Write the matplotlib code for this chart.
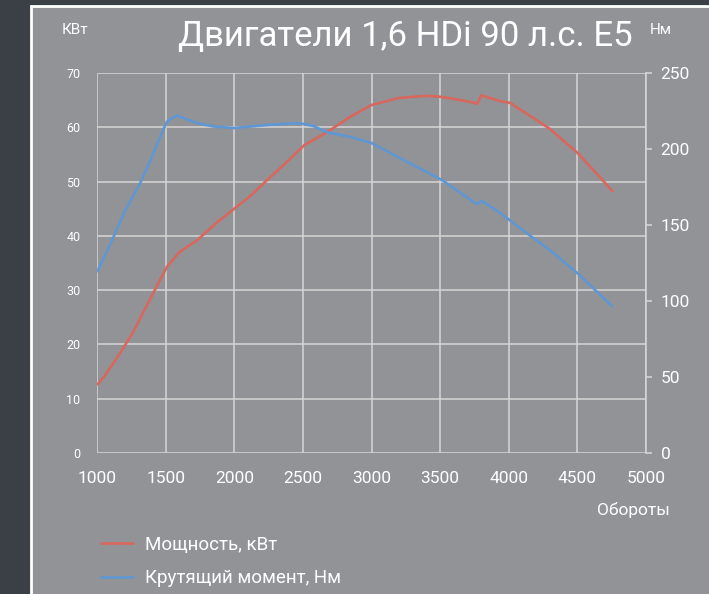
import matplotlib
matplotlib.use("Agg")
import matplotlib.pyplot as plt
from matplotlib.patches import Rectangle

FONT = ["Roboto", "DejaVu Sans"]
plt.rcParams["font.family"] = FONT

# ---- данные ----
rpm_power = [1000, 1050, 1150, 1260, 1410, 1510, 1600, 1730, 1870, 1990,
             2120, 2240, 2357, 2510, 2676, 2843, 3000, 3200, 3400, 3510,
             3650, 3750, 3770, 3800, 3940, 4010, 4150, 4300, 4500, 4650, 4760]
power_kw = [12.5, 14.0, 17.7, 22.1, 29.5, 34.3, 37.0, 39.2, 42.4, 44.8,
            47.4, 50.3, 53.0, 56.7, 59.1, 61.9, 64.1, 65.4, 65.8, 65.6,
            65.0, 64.5, 64.3, 65.9, 64.8, 64.5, 62.2, 59.7, 55.3, 51.2, 48.1]

rpm_torque = [1000, 1100, 1200, 1315, 1400, 1460, 1510, 1550, 1583, 1650,
              1730, 1850, 2000, 2240, 2457, 2510, 2574, 2676, 2843, 3000,
              3208, 3513, 3754, 3770, 3805, 3936, 4010, 4155, 4300, 4504, 4760]
torque_nm = [119, 138, 158.5, 177.7, 194.7, 208, 218, 220.4, 222, 219.7,
             217, 214.8, 213.8, 215.8, 217, 216.4, 215.2, 211, 208, 204,
             194, 179.6, 164.5, 163.8, 165.8, 158, 153, 143, 133.5, 118, 96]

x_ticks = [1000, 1500, 2000, 2500, 3000, 3500, 4000, 4500, 5000]
kw_ticks = [0, 10, 20, 30, 40, 50, 60, 70]
nm_ticks = [0, 50, 100, 150, 200, 250]

RED = "#d8675d"
BLUE = "#5e97d3"
GRID = "#d6d6d6"
PANEL = "#929397"
DARK = "#3b4047"

fig = plt.figure(figsize=(7.09, 5.94), dpi=100)
fig.patch.set_facecolor(DARK)
panel = Rectangle((31 / 709, -0.01), 1.0, 1 - 6 / 594 + 0.01,
                  transform=fig.transFigure, facecolor=PANEL,
                  edgecolor="white", linewidth=2, zorder=-5)
fig.patches.append(panel)

ax = fig.add_axes([97 / 709, 1 - 453 / 594, 549 / 709, 380 / 594])
ax.set_facecolor("none")
ax.set_xlim(1000, 5000)
ax.set_ylim(0, 70)
ax.set_xticks(x_ticks)
ax.set_yticks(kw_ticks)
for s in ax.spines.values():
    s.set_visible(False)
ax.grid(True, color=GRID, linewidth=1.1)
ax.tick_params(axis="both", length=0, colors="white")
ax.tick_params(axis="y", labelsize=9, pad=12)
ax.tick_params(axis="x", labelsize=12.5, pad=13)

ax2 = ax.twinx()
ax2.set_ylim(0, 250)
ax2.set_yticks(nm_ticks)
for k, s in ax2.spines.items():
    s.set_visible(k == "right")
ax2.spines["right"].set_color(GRID)
ax2.spines["right"].set_linewidth(1.1)
ax2.tick_params(axis="y", length=4.5, width=1.1, color=GRID,
                labelcolor="white", labelsize=12.5, pad=6)

l1, = ax.plot(rpm_power, power_kw, color=RED, lw=1.9, solid_capstyle="butt",
              label="Мощность, кВт", zorder=3)
l2, = ax2.plot(rpm_torque, torque_nm, color=BLUE, lw=1.9, solid_capstyle="butt",
               label="Крутящий момент, Нм", zorder=3)

fig.text(405 / 709, 1 - 37 / 594, "Двигатели 1,6 HDi 90 л.с. E5",
         color="white", fontsize=25, ha="center", va="center")
fig.text(75 / 709, 1 - 30 / 594, "КВт", color="white", fontsize=11,
         ha="center", va="center")
fig.text(661 / 709, 1 - 30 / 594, "Нм", color="white", fontsize=11,
         ha="center", va="center")
fig.text(670 / 709, 1 - 510 / 594, "Обороты", color="white", fontsize=12.5,
         ha="right", va="center")

leg = fig.legend(handles=[l1, l2], loc="upper left",
                 bbox_to_anchor=(100 / 709, 1 - 536 / 594),
                 frameon=False, fontsize=13.5, handlelength=1.8,
                 handletextpad=0.6, labelspacing=0.82, borderpad=0,
                 borderaxespad=0)
for t in leg.get_texts():
    t.set_color("white")

fig.savefig("out.png", dpi=100, facecolor=fig.get_facecolor())
